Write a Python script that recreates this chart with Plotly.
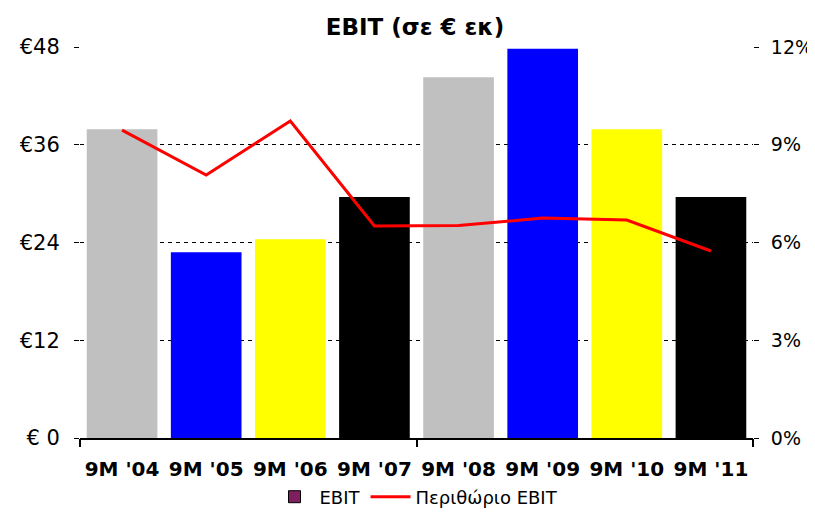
import plotly.graph_objects as go

categories = ["9M '04", "9M '05", "9M '06", "9M '07", "9M '08", "9M '09", "9M '10", "9M '11"]
ebit = [37.9, 22.8, 24.4, 29.6, 44.3, 47.8, 37.9, 29.6]
margin_pct = [9.45, 8.07, 9.73, 6.51, 6.52, 6.75, 6.69, 5.74]
bar_colors = ["#C0C0C0", "#0000FF", "#FFFF00", "#000000", "#C0C0C0", "#0000FF", "#FFFF00", "#000000"]
left_ticks = [0, 12, 24, 36, 48]
left_labels = ["€ 0", "€12", "€24", "€36", "€48"]
right_ticks = [0, 3, 6, 9, 12]
right_labels = ["0%", "3%", "6%", "9%", "12%"]

FONT = "DejaVu Sans"

fig = go.Figure()
fig.add_trace(go.Bar(x=categories, y=ebit, marker=dict(color=bar_colors, line=dict(width=0)),
                     showlegend=False, xaxis="x", yaxis="y"))
fig.add_trace(go.Bar(x=[None], y=[None], name="EBIT",
                     marker=dict(color="#7F1F5F", line=dict(color="black", width=1)),
                     xaxis="x2", yaxis="y"))
fig.add_trace(go.Scatter(x=list(range(len(categories))), y=margin_pct, mode="lines",
                         name="Περιθώριο EBIT", line=dict(color="#FF0000", width=3),
                         xaxis="x2", yaxis="y2"))

fig.update_layout(
    width=815, height=512,
    margin=dict(l=72, r=70, t=39, b=82, autoexpand=False),
    paper_bgcolor="white", plot_bgcolor="white",
    barmode="overlay", bargap=0.16,
    font=dict(family=FONT, color="black", size=16),
    title=dict(text="<b>EBIT (σε € εκ)</b>", x=407 / 815, xanchor="center", y=1 - 19 / 512, yanchor="middle",
               font=dict(family=FONT, size=23, color="black")),
    xaxis=dict(type="category", showline=True, linecolor="black", linewidth=1.5, automargin=False,
               ticks="", showgrid=False,
               tickfont=dict(family=FONT, size=20, color="black", weight="bold"),
               ticklabelstandoff=12),
    xaxis2=dict(overlaying="x", range=[-0.5, 7.5], tickvals=[-0.5, 3.5, 7.5], ticks="outside",
                ticklen=8, tickwidth=1.5, tickcolor="black", showticklabels=False, showgrid=False,
                zeroline=False, showline=False, automargin=False),
    yaxis=dict(range=[0, 48], tickvals=left_ticks, ticktext=left_labels, ticks="outside",
               ticklen=5, tickcolor="black", showline=False, showgrid=True, gridcolor="black",
               griddash="4px,4px", gridwidth=1, zeroline=False, automargin=False,
               ticklabelstandoff=10,
               tickfont=dict(family=FONT, size=21, color="black")),
    yaxis2=dict(overlaying="y", side="right", range=[0, 12], tickvals=right_ticks, ticktext=right_labels,
                ticks="outside", ticklen=5, tickcolor="black", showgrid=False, zeroline=False,
                showline=False, automargin=False, ticklabelstandoff=8,
                tickfont=dict(family=FONT, size=19, color="black")),
    legend=dict(orientation="h", x=0.5, xanchor="center", yref="container", y=1 - 489 / 512,
                yanchor="middle", font=dict(family=FONT, size=18, color="black"), itemwidth=40,
                tracegroupgap=0),
)

fig.write_html("out.html")
